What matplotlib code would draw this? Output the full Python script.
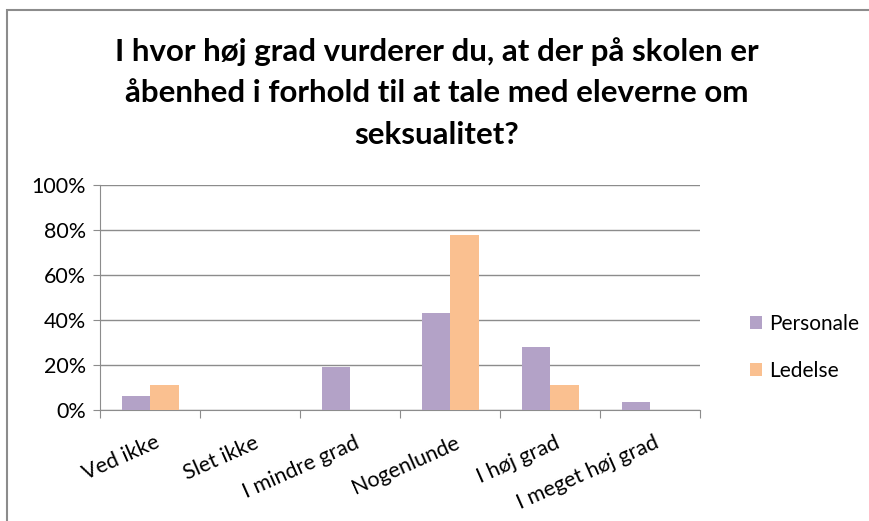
import matplotlib
matplotlib.use("Agg")
import matplotlib.pyplot as plt
import numpy as np
from matplotlib.patches import Rectangle

categories = ["Ved ikke", "Slet ikke", "I mindre grad", "Nogenlunde", "I høj grad", "I meget høj grad"]
personale = [6.2, 0.0, 19.1, 43.0, 27.9, 3.6]
ledelse = [11.1, 0.0, 0.0, 77.8, 11.1, 0.0]
series_names = ["Personale", "Ledelse"]
title = "I hvor høj grad vurderer du, at der på skolen er\nåbenhed i forhold til at tale med eleverne om\nseksualitet?"

COLORS = ["#B3A2C7", "#FAC090"]
FONT = ["Lato", "DejaVu Sans"]

plt.rcParams["font.family"] = FONT

fig = plt.figure(figsize=(8.69, 5.21), dpi=100)
fig.patches.append(Rectangle((7 / 869, -0.1), 1.0, 1 - 10 / 521 + 0.1,
                             transform=fig.transFigure, fill=False,
                             edgecolor="#8c8c8c", linewidth=1.5))

ax = fig.add_axes([100 / 869, 1 - 410 / 521, 600 / 869, 225 / 521])

x = np.arange(len(categories))
w = 0.285
ax.bar(x - w / 2, personale, width=w, color=COLORS[0], label=series_names[0], zorder=3)
ax.bar(x + w / 2, ledelse, width=w, color=COLORS[1], label=series_names[1], zorder=3)

ax.set_xlim(-0.5, len(categories) - 0.5)
ax.set_ylim(0, 100)
ax.set_yticks(np.arange(0, 101, 20))
ax.set_yticklabels([f"{v}%" for v in range(0, 101, 20)], fontsize=15.5)
ax.yaxis.grid(True, color="#8c8c8c", linewidth=1.0, zorder=0)
ax.tick_params(axis="y", length=5, color="#8c8c8c", pad=5)

# ticks between categories, labels at category centres
ax.set_xticks(np.arange(-0.5, len(categories), 1.0))
ax.set_xticklabels([])
ax.tick_params(axis="x", length=6, color="#8c8c8c")
for i, lab in enumerate(categories):
    ax.text(i + 0.04, -10, lab, rotation=24, ha="right", va="top",
            rotation_mode="anchor", fontsize=15.5, transform=ax.transData)

for side in ["top", "right"]:
    ax.spines[side].set_visible(False)
for side in ["left", "bottom"]:
    ax.spines[side].set_color("#8c8c8c")

fig.text(437 / 869, 1 - 37 / 521, title, ha="center", va="top", fontsize=22.5,
         fontweight="bold", linespacing=1.58)

fig.legend(loc="upper left", bbox_to_anchor=(731 / 869, 1 - 295 / 521),
           frameon=False, fontsize=15, handlelength=0.6, handleheight=0.6,
           handletextpad=0.35, labelspacing=1.3)

fig.savefig("out.png", dpi=100)
